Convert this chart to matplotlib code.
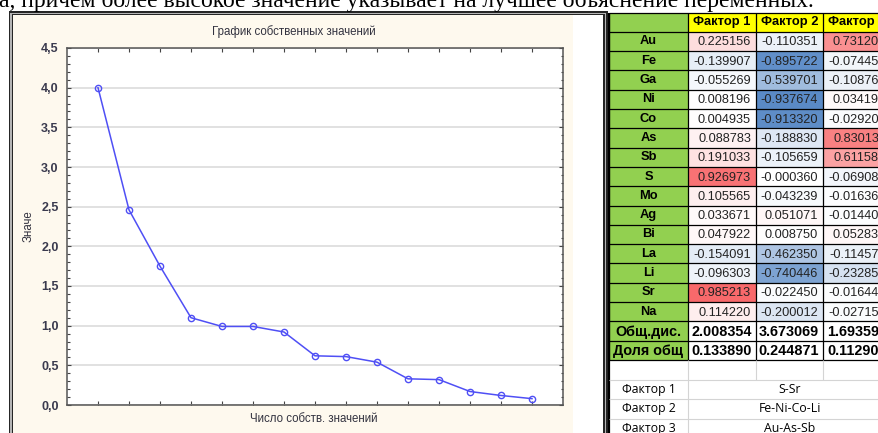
import matplotlib
matplotlib.use('Agg')
import matplotlib.pyplot as plt
from matplotlib.patches import Rectangle
from matplotlib.ticker import MultipleLocator, FixedLocator, FuncFormatter

W, H = 879, 433

# собственные значения (scree plot)
eigen_values = [4.00, 2.46, 1.75, 1.10, 0.99, 0.99, 0.92, 0.62, 0.61, 0.54, 0.33, 0.32, 0.17, 0.12, 0.08]

# факторные нагрузки
elements = ['Au', 'Fe', 'Ga', 'Ni', 'Co', 'As', 'Sb', 'S', 'Mo', 'Ag', 'Bi', 'La', 'Li', 'Sr', 'Na']
factor1 = [0.225156, -0.139907, -0.055269, 0.008196, 0.004935, 0.088783, 0.191033, 0.926973,
           0.105565, 0.033671, 0.047922, -0.154091, -0.096303, 0.985213, 0.114220]
factor2 = [-0.110351, -0.895722, -0.539701, -0.937674, -0.913320, -0.188830, -0.105659, -0.000360,
           -0.043239, 0.051071, 0.008750, -0.462350, -0.740446, -0.022450, -0.200012]
# третий столбец обрезан краем картинки
factor3 = [0.73120, -0.07445, -0.10876, 0.03419, -0.02920, 0.83013, 0.61158, -0.06908,
           -0.01636, -0.01440, 0.05283, -0.11457, -0.23285, -0.01644, -0.02715]
expl_var = [2.008354, 3.673069, 1.69359]
prop_total = [0.133890, 0.244871, 0.11290]
factor_labels = ['Фактор 1', 'Фактор 2', 'Фактор 3']
factor_groups = ['S-Sr', 'Fe-Ni-Co-Li', 'Au-As-Sb']

top_line = 'а, причем более высокое значение указывает на лучшее объяснение переменных.'

fig = plt.figure(figsize=(W / 100, H / 100), dpi=100)
bg = fig.add_axes([0, 0, 1, 1])
bg.set_xlim(0, W)
bg.set_ylim(H, 0)
bg.axis('off')


def rect(x0, y0, x1, y1, fc, ec='none', lw=0, z=1):
    bg.add_patch(Rectangle((x0, y0), x1 - x0, y1 - y0, facecolor=fc,
                           edgecolor=ec, linewidth=lw, zorder=z))


def hline(y, x0, x1, c, lw=0.8, z=3):
    bg.plot([x0, x1], [y, y], color=c, lw=lw, zorder=z, solid_capstyle='butt')


def vline(x, y0, y1, c, lw=0.8, z=3):
    bg.plot([x, x], [y0, y1], color=c, lw=lw, zorder=z, solid_capstyle='butt')


# строка текста сверху (обрезана)
bg.text(-1, 6.5, top_line, family='Liberation Serif', fontsize=17, va='baseline', ha='left')

# рамка окна с графиком
rect(9, 11, 608, H + 5, '#262626')
rect(10.5, 12.5, 606.5, H + 5, '#b5b5b5')
rect(12, 14, 605, H + 5, '#262626')
rect(13.5, 15, 603.5, H + 5, '#ffffff')
rect(13.5, 15, 573, H + 5, '#fef9ee')

bg.text(294, 32, 'График собственных значений', family='Liberation Sans', fontsize=8.3,
        color='#333340', ha='center', va='center')
bg.text(29, 226, 'Значе', family='Liberation Sans', fontsize=8.3, color='#333340',
        ha='center', va='center', rotation=90)
bg.text(314, 419, 'Число собств. значений', family='Liberation Sans', fontsize=8.3,
        color='#333340', ha='center', va='center')

# график
ax = fig.add_axes([67 / W, 1 - 405 / H, (563 - 67) / W, (405 - 48) / H])
ax.set_facecolor('white')
ax.plot(range(1, len(eigen_values) + 1), eigen_values, color='#4f4ff5', lw=1.1,
        marker='o', ms=4.5, mfc='none', mew=1.0, zorder=3)
ax.set_xlim(0, 16)
ax.set_ylim(0, 4.5)
ax.xaxis.set_major_locator(FixedLocator(range(1, 16)))
ax.yaxis.set_major_locator(MultipleLocator(0.5))
ax.yaxis.set_minor_locator(MultipleLocator(0.1))
ax.yaxis.set_major_formatter(FuncFormatter(lambda v, p: f'{v:.1f}'.replace('.', ',')))
ax.tick_params(which='both', direction='in', top=True, right=True, labelbottom=False,
               color='#444444', width=0.8)
ax.tick_params(which='major', length=3)
ax.tick_params(which='minor', length=1.8)
ax.tick_params(axis='y', labelsize=9, labelcolor='#3a3a4e', pad=6)
for lab in ax.get_yticklabels():
    lab.set_family('Liberation Sans')
    lab.set_fontweight('bold')
ax.grid(axis='y', color='#dcdcdc', lw=1.2)
ax.set_axisbelow(True)
for s in ax.spines.values():
    s.set_color('#555555')
    s.set_linewidth(1.1)

# таблица нагрузок
green = '#92d050'
yellow = '#ffff00'
red = (248 / 255, 105 / 255, 107 / 255)
blue = (90 / 255, 138 / 255, 198 / 255)
vmax = max(factor1 + factor2 + factor3)
vmin = min(factor1 + factor2 + factor3)


def scale_color(v):
    if v >= 0:
        t, c = v / vmax, red
    else:
        t, c = v / vmin, blue
    return tuple(1 - t + t * ci for ci in c)


col_x = [609, 688, 756, 823, 891]
row_h = 19.3
top = 12.5
n_rows = len(elements) + 3
bottom = top + n_rows * row_h


def row_y(i):
    return top + i * row_h


# заголовок
rect(col_x[0], row_y(0), col_x[1], row_y(1), green)
for j, name in enumerate(factor_labels):
    rect(col_x[j + 1], row_y(0), col_x[j + 2], row_y(1), yellow)
    bg.text((col_x[j + 1] + col_x[j + 2]) / 2, row_y(0.5), name, family='Liberation Sans',
            fontsize=9.3, fontweight='bold', ha='center', va='center')

cols = [factor1, factor2, factor3]
for i, el in enumerate(elements):
    r = i + 1
    rect(col_x[0], row_y(r), col_x[1], row_y(r + 1), green)
    bg.text((col_x[0] + col_x[1]) / 2, row_y(r + 0.5), el, family='Liberation Sans',
            fontsize=9.3, fontweight='bold', ha='center', va='center')
    for j, col in enumerate(cols):
        v = col[i]
        rect(col_x[j + 1], row_y(r), col_x[j + 2], row_y(r + 1), scale_color(v))
        if j < 2:
            txt, xr = f'{v:.6f}', col_x[j + 2] - 5
        else:
            txt, xr = f'{v:.5f}', W
        bg.text(xr, row_y(r + 0.55), txt, family='Liberation Sans', fontsize=9.2,
                color='#222222', ha='right', va='center')

for r, (lab, vals, fmt) in enumerate([('Общ.дис.', expl_var, [6, 6, 5]),
                                      ('Доля общ', prop_total, [6, 6, 5])]):
    rr = len(elements) + 1 + r
    rect(col_x[0], row_y(rr), col_x[1], row_y(rr + 1), green)
    rect(col_x[1], row_y(rr), col_x[4], row_y(rr + 1), 'white')
    bg.text((col_x[0] + col_x[1]) / 2, row_y(rr + 0.55), lab, family='Liberation Sans',
            fontsize=10.4, fontweight='bold', ha='center', va='center')
    for j, v in enumerate(vals):
        xr = col_x[j + 2] - 4 if j < 2 else W
        bg.text(xr, row_y(rr + 0.55), f'{v:.{fmt[j]}f}', family='Liberation Sans',
                fontsize=10.4, fontweight='bold', ha='right', va='center')

# сетка таблицы
for i in range(n_rows + 1):
    hline(row_y(i), col_x[0], W + 5, 'black', lw=0.9)
for x in col_x:
    vline(x, top, bottom, 'black', lw=0.9)
vline(col_x[0], top, H + 5, 'black', lw=1.6)

# нижняя часть: расшифровка факторов
low_top = bottom + 20
rect(col_x[0] + 1, bottom + 0.5, W + 5, H + 5, 'white')
vline(col_x[1], bottom, H + 5, '#d4d4d4')
vline(col_x[2], bottom, low_top, '#d4d4d4')
vline(col_x[3], bottom, low_top, '#d4d4d4')
for k in range(4):
    hline(low_top + k * row_h, col_x[0], W + 5, '#d4d4d4')
for k, (lab, grp) in enumerate(zip(factor_labels, factor_groups)):
    yc = low_top + (k + 0.5) * row_h
    bg.text(622, yc, lab, family='Open Sans', fontsize=8.8, ha='left', va='center')
    bg.text(790, yc, grp, family='Open Sans', fontsize=8.8, ha='center', va='center')

fig.savefig('out.png', dpi=100)
